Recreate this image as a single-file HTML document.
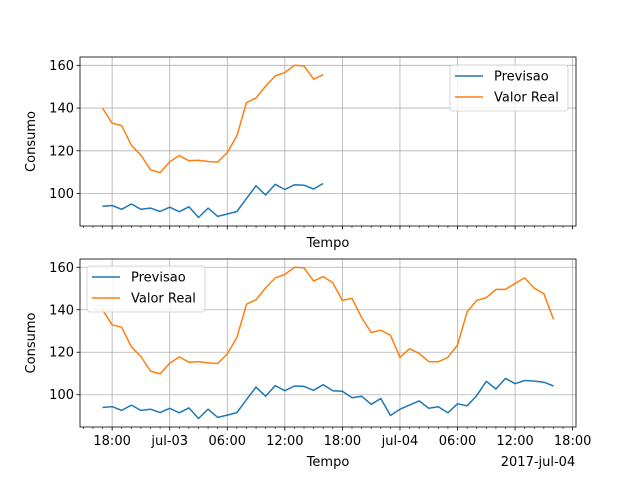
<!DOCTYPE html>
<html><head><meta charset="utf-8"><style>
body{margin:0;background:#fff}
svg{display:block;font-family:"DejaVu Sans","Liberation Sans",sans-serif}
</style></head><body>
<svg id="chart" width="640" height="480" viewBox="0 0 640 480" xmlns="http://www.w3.org/2000/svg"></svg>
<script>
// hours relative to 18:00 on 2017-jul-02
const startHour = -1;
const previsao = [94,94.4,92.6,95.1,92.6,93.2,91.6,93.6,91.5,93.8,88.8,93.2,89.3,90.4,91.6,97.7,103.6,99.3,104.3,101.9,104.1,103.9,102.1,104.7,101.9,101.6,98.6,99.3,95.5,98.2,90.2,93.2,95.1,97.1,93.6,94.3,91.5,95.7,94.8,99.6,106.3,102.7,107.7,105.2,106.7,106.4,105.9,104.1];
const valorReal = [140,132.9,131.8,122.6,118,111.1,109.8,114.8,117.8,115.3,115.6,115,114.7,119.2,127,142.6,144.7,150.3,155,156.6,160,159.7,153.5,155.6,152.7,144.4,145.4,136.3,129.3,130.4,128,117.6,121.6,119.5,115.6,115.5,117.6,123.4,139,144.4,145.7,149.6,149.6,152.4,155,150.2,147.5,135.5];
const topCount = 24;
const yTicks = [100,120,140,160];
const xTickHours = [0,6,12,18,24,30,36,42,48];
const xTickLabels = ["18:00","jul-03","06:00","12:00","18:00","jul-04","06:00","12:00","18:00"];

const NS="http://www.w3.org/2000/svg";
const svg=document.getElementById('chart');
function mk(tag,attrs,parent){const e=document.createElementNS(NS,tag);for(const k in attrs)e.setAttribute(k,attrs[k]);(parent||svg).appendChild(e);return e;}
const X0=80,X1=576,xmin=-3.35,xmax=48.35;
const ymin=84.8,ymax=163.9;
function xs(h){return X0+(h-xmin)/(xmax-xmin)*(X1-X0);}
function panel(top,bottom,n,showLabels,legendPos,name){
  const ys=v=>bottom-(v-ymin)/(ymax-ymin)*(bottom-top);
  const g=mk('g',{});
  
  
  // grid
  xTickHours.forEach(h=>{const x=xs(h);if(x>X1)return;const l=mk('line',{x1:x,x2:x,y1:top,y2:bottom,stroke:'#b0b0b0','stroke-width':0.8},g);});
  yTicks.forEach(v=>{const y=ys(v);const l=mk('line',{x1:X0,x2:X1,y1:y,y2:y,stroke:'#b0b0b0','stroke-width':0.8},g);
    const t=mk('line',{x1:X0-3.5,x2:X0,y1:y,y2:y,stroke:'#000','stroke-width':0.8},g);
    const tx=mk('text',{x:X0-6,y:y+4.5,'text-anchor':'end','font-size':13},g);tx.textContent=v;});
  // minor ticks
  for(let h=-3;h<=48;h++){const x=xs(h);const major=h%6===0;const l=mk('line',{x1:x,x2:x,y1:bottom,y2:bottom+(major?3.5:2),stroke:'#000','stroke-width':major?0.8:0.6},g);}
  if(showLabels){xTickHours.forEach((h,i)=>{const t=mk('text',{x:xs(h),y:bottom+18,'text-anchor':'middle','font-size':13},g);t.textContent=xTickLabels[i];});
    const t=mk('text',{x:X1-38,y:bottom+39,'text-anchor':'middle','font-size':13},g);t.textContent='2017-jul-04';}
  const xl=mk('text',{x:(X0+X1)/2,y:bottom+(showLabels?39:21),'text-anchor':'middle','font-size':13},g);xl.textContent='Tempo';
  const yl=mk('text',{x:0,y:0,'text-anchor':'middle','font-size':13,transform:`translate(35,${(top+bottom)/2}) rotate(-90)`},g);yl.textContent='Consumo';
  // series
  const mkLine=(arr,color,nm)=>{const pts=arr.slice(0,n).map((v,i)=>xs(startHour+i).toFixed(1)+','+ys(v).toFixed(1)).join(' ');const p=mk('polyline',{points:pts,fill:'none',stroke:color,'stroke-width':1.5,'stroke-linejoin':'round'},g);};
  mkLine(previsao,'#1f77b4','previsao-line');
  mkLine(valorReal,'#ff7f0e','valor-real-line');
  const fr=mk('rect',{x:X0,y:top,width:X1-X0,height:bottom-top,fill:'none',stroke:'#000','stroke-width':0.8},g);
  // legend
  const [lx,ly]=legendPos;
  const lg=mk('g',{},g);
  mk('rect',{x:lx,y:ly,width:118,height:46,rx:3,fill:'#fff','fill-opacity':0.8,stroke:'#ccc','stroke-width':0.8},lg);
  [['Previsao','#1f77b4'],['Valor Real','#ff7f0e']].forEach((e,i)=>{const y=ly+11+i*21;
    const ent=mk('g',{},lg);
    mk('line',{x1:lx+5,x2:lx+33,y1:y,y2:y,stroke:e[1],'stroke-width':1.5},ent);
    const t=mk('text',{x:lx+44,y:y+4.5,'font-size':13},ent);t.textContent=e[0];});
}
panel(57,226,topCount,false,[450,65],'top-panel');
panel(259,427,previsao.length,true,[87,266],'bottom-panel');
</script>
</body></html>
